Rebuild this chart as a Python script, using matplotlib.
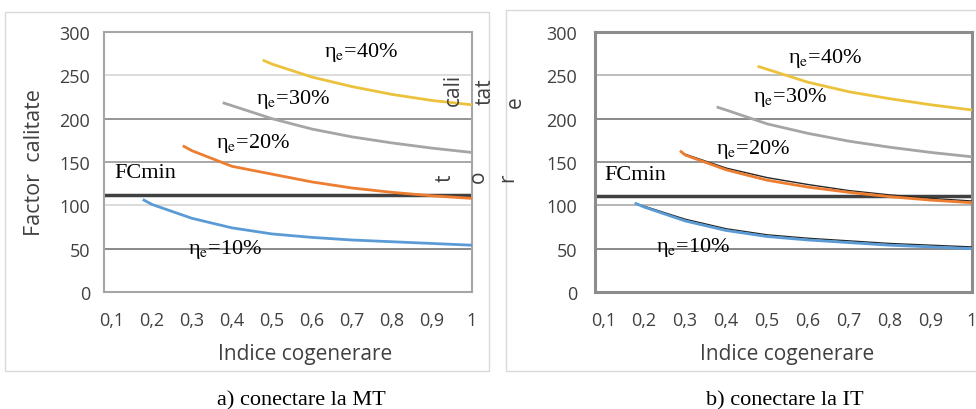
import matplotlib.pyplot as plt
import matplotlib.patches as patches

# ---- data ----
xticks = [0.1, 0.2, 0.3, 0.4, 0.5, 0.6, 0.7, 0.8, 0.9, 1.0]
xticklabels = ["0,1", "0,2", "0,3", "0,4", "0,5", "0,6", "0,7", "0,8", "0,9", "1"]
yticks = [0, 50, 100, 150, 200, 250, 300]

# a) conectare la MT
a_x10 = [0.18, 0.2, 0.3, 0.4, 0.5, 0.6, 0.7, 0.8, 0.9, 1.0]
a_y10 = [106, 101, 85, 74, 67, 63, 60, 58, 56, 54]
a_x20 = [0.28, 0.3, 0.4, 0.5, 0.6, 0.7, 0.8, 0.9, 1.0]
a_y20 = [168, 163, 145, 136, 127, 120, 115, 111, 108]
a_x30 = [0.38, 0.4, 0.5, 0.6, 0.7, 0.8, 0.9, 1.0]
a_y30 = [218, 215, 200, 188, 179, 172, 166, 161]
a_x40 = [0.48, 0.5, 0.6, 0.7, 0.8, 0.9, 1.0]
a_y40 = [267, 263, 248, 237, 228, 221, 216]
a_fcmin = 112

# b) conectare la IT
b_x10 = [0.18, 0.2, 0.3, 0.4, 0.5, 0.6, 0.7, 0.8, 0.9, 1.0]
b_y10 = [102, 98, 82, 71, 64, 60, 57, 54, 52, 50]
b_y10k = [102, 99, 84, 73, 66, 62, 59, 56, 54, 52]
b_x20 = [0.29, 0.3, 0.4, 0.5, 0.6, 0.7, 0.8, 0.9, 1.0]
b_y20 = [162, 158, 141, 129, 121, 115, 110, 106, 103]
b_y20k = [162, 159, 143, 132, 124, 117, 112, 108, 105]
b_x30 = [0.38, 0.4, 0.5, 0.6, 0.7, 0.8, 0.9, 1.0]
b_y30 = [213, 210, 194, 183, 174, 167, 161, 156]
b_x40 = [0.48, 0.5, 0.6, 0.7, 0.8, 0.9, 1.0]
b_y40 = [260, 257, 242, 231, 223, 216, 210]
b_fcmin = 111

blue, orange, grey, yellow = "#5b9bd5", "#ed7d31", "#a5a5a5", "#ecc23c"
serif = ["Liberation Serif", "DejaVu Serif"]
plt.rcParams["mathtext.fontset"] = "stix"
plt.rcParams["font.family"] = ["Open Sans", "DejaVu Sans"]

fig = plt.figure(figsize=(9.76, 4.10), dpi=100)

# chart area frames
fig.patches.append(patches.Rectangle((5 / 976, 1 - 372 / 410), 484 / 976, 359 / 410,
                                     transform=fig.transFigure, fill=False,
                                     edgecolor="#d9d9d9", lw=1))
fig.patches.append(patches.Rectangle((506 / 976, 1 - 372 / 410), 480 / 976, 361 / 410,
                                     transform=fig.transFigure, fill=False,
                                     edgecolor="#d9d9d9", lw=1))

ax1 = fig.add_axes([104 / 976, 1 - 293 / 410, 368 / 976, 260 / 410])
ax2 = fig.add_axes([595 / 976, 1 - 293 / 410, 377 / 976, 260 / 410])


def setup(ax, gridcols, spine_col, spine_w, ypad, xlab_x):
    ax.set_xlim(0.08, 1.0)
    ax.set_ylim(0, 300)
    ax.set_xticks(xticks)
    ax.set_xticklabels(xticklabels)
    ax.set_yticks(yticks)
    ax.tick_params(length=0, labelsize=13, labelcolor="#404040")
    ax.tick_params(axis="x", pad=14)
    ax.tick_params(axis="y", pad=ypad)
    for v, c in zip([50, 100, 150, 200, 250], gridcols):
        ax.axhline(v, color=c, lw=1.3, zorder=1)
    for s in ax.spines.values():
        s.set_color(spine_col)
        s.set_linewidth(spine_w)
    ax.set_xlabel("Indice cogenerare", fontsize=15, color="#404040")
    ax.xaxis.set_label_coords(xlab_x, -0.195)


setup(ax1, ["#808080", "#d9d9d9", "#a0a0a0", "#8c8c8c", "#d9d9d9"], "#a6a6a6", 1.5, 10, 0.546)
setup(ax2, ["#808080", "#b0b0b0", "#8c8c8c", "#808080", "#b8b8b8"], "#8c8c8c", 2.2, 13, 0.51)
ax1.set_ylabel("Factor  calitate", fontsize=15.5, color="#404040", labelpad=10)

lab = dict(family=serif, fontsize=16, va="center")

# panel a
ax1.plot(a_x10, a_y10, color=blue, lw=2, zorder=3)
ax1.plot(a_x20, a_y20, color=orange, lw=2, zorder=3)
ax1.plot(a_x30, a_y30, color=grey, lw=2, zorder=3)
ax1.plot(a_x40, a_y40, color=yellow, lw=2, zorder=3)
ax1.axhline(a_fcmin, color="#404040", lw=2.5, zorder=2)
ax1.text(0.63, 277, r"η$_{\rm e}$=40%", **lab)
ax1.text(0.46, 223, r"η$_{\rm e}$=30%", **lab)
ax1.text(0.36, 173, r"η$_{\rm e}$=20%", **lab)
ax1.text(0.29, 50, r"η$_{\rm e}$=10%", **lab)
ax1.text(0.105, 138, "FCmin", **lab)

# panel b
ax2.plot(b_x10, b_y10k, color="#262626", lw=1, zorder=3)
ax2.plot(b_x10, b_y10, color=blue, lw=2, zorder=3)
ax2.plot(b_x20, b_y20k, color="#262626", lw=1, zorder=3)
ax2.plot(b_x20, b_y20, color=orange, lw=2, zorder=3)
ax2.plot(b_x30, b_y30, color=grey, lw=2, zorder=3)
ax2.plot(b_x40, b_y40, color=yellow, lw=2, zorder=3)
ax2.axhline(b_fcmin, color="#404040", lw=2.5, zorder=2)
ax2.text(0.55, 271, r"η$_{\rm e}$=40%", **lab)
ax2.text(0.465, 225, r"η$_{\rm e}$=30%", **lab)
ax2.text(0.375, 165, r"η$_{\rm e}$=20%", **lab)
ax2.text(0.23, 52, r"η$_{\rm e}$=10%", **lab)
ax2.text(0.102, 136, "FCmin", **lab)

# stray fragments of the second y label
for s, px, py in [("cali", 453, 90), ("tat", 485, 92), ("e", 515, 102),
                  ("t", 445, 178), ("o", 478, 177), ("r", 508, 178)]:
    fig.text(px / 976, 1 - py / 410, s, rotation=90, fontsize=15,
             color="#404040", ha="center", va="center")

# captions
fig.text(301 / 976, 1 - 401 / 410, "a) conectare la MT", family=serif,
         fontsize=16, ha="center", va="center")
fig.text(785 / 976, 1 - 401 / 410, "b) conectare la IT", family=serif,
         fontsize=16, ha="center", va="center")

fig.savefig("out.png", dpi=100)
